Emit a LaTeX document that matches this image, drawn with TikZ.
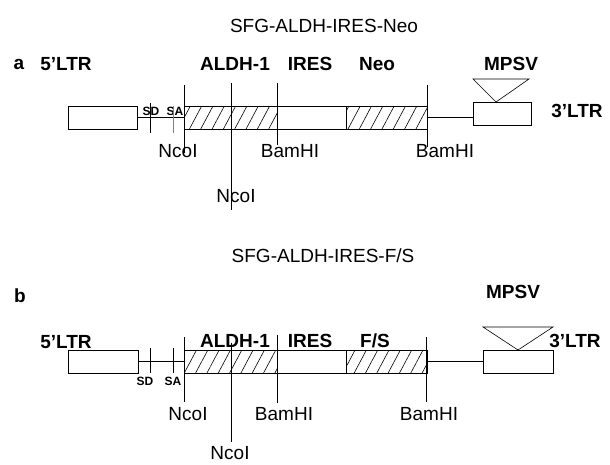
\documentclass[tikz,border=0pt]{standalone}
\usepackage{fontspec}
\setmainfont{Liberation Sans}
\usetikzlibrary{positioning,patterns.meta}

\begin{document}
\begin{tikzpicture}[x=1pt, y=-1pt, font=\fontsize{19}{22}\selectfont,
  box/.style={draw, line width=0.8pt, inner sep=0pt, outer sep=0pt, minimum height=23pt},
  hatchbox/.style={box, pattern={Lines[angle=62, distance=10pt, line width=0.6pt]}},
  lbl/.style={font=\fontsize{19}{22}\selectfont\bfseries, anchor=base, inner sep=0pt},
  ttl/.style={anchor=base, inner sep=0pt},
  site/.style={anchor=base, inner sep=0pt},
  sdsa/.style={font=\fontsize{12}{14}\selectfont\bfseries, anchor=base, inner sep=0pt},
  bb/.style={line width=0.8pt},
  cut/.style={line width=0.6pt}]
\useasboundingbox (0,0) rectangle (610,464);

% ---- panel a: SFG-ALDH-IRES-Neo
\node[ttl] (titleA) at (324,32) {SFG-ALDH-IRES-Neo};
\node[lbl] (panA) at (19,69) {a};
\node[lbl] (ltr5A) at (66,70) {5'LTR};
\node[lbl] (aldhlA) at (235,70) {ALDH-1};
\node[lbl] (ireslA) at (310,70) {IRES};
\node[lbl] (neolA) at (377,70) {Neo};
\node[lbl] (mpsvlA) at (511,70) {MPSV};
\node[lbl] (ltr3A) at (577,117) {3'LTR};
\node[box, minimum width=69pt] (ltrA) at (102.5,117.5) {};
\node[box, minimum width=243pt] (insA) at (305.5,117.5) {};
\node[hatchbox, minimum width=93pt] (aldhA) at (230.5,117.5) {};
\node[hatchbox, minimum width=81pt] (neoA) at (386.5,117.5) {};
\node[box, minimum width=58pt] (mpsvA) at (502,113.5) {};
\draw[bb] (ltrA.east) -- (insA.west);
\draw[bb] (insA.east |- 0,117) -- (mpsvA.west |- 0,117);
\coordinate (triAl) at (473,79);
\coordinate (triAr) at (529,79);
\coordinate (triAp) at (496,102);
\draw[cut] (triAl) -- (triAr) -- (triAp) -- cycle;
\node[sdsa] (sdA) at (151,115) {SD};
\node[sdsa] (saA) at (175,115) {SA};
\coordinate (sdAt) at (150,103);  \coordinate (sdAb) at (150,133);
\coordinate (saAt) at (173,106);  \coordinate (saAb) at (173,133);
\draw[cut] (sdAt) -- (sdAb);
\draw[cut, gray] (saAt) -- (saAb);
\node[site] (ncoA) at (178,157) {NcoI};
\node[site] (bamA) at (290,157) {BamHI};
\node[site] (bamAr) at (445,157) {BamHI};
\node[site] (ncoAl) at (236,202) {NcoI};
\coordinate (ncoAt) at (184,85);   \coordinate (ncoAb) at (184,153);
\coordinate (ncoAlt) at (231,83);  \coordinate (ncoAlb) at (231,210);
\coordinate (bamAt) at (277,83);   \coordinate (bamAb) at (277,145);
\coordinate (bamArt) at (427,85);  \coordinate (bamArb) at (427,147);
\draw[cut] (ncoAt) -- (ncoAb);
\draw[cut] (ncoAlt) -- (ncoAlb);
\draw[cut] (bamAt) -- (bamAb);
\draw[cut] (bamArt) -- (bamArb);

% ---- panel b: SFG-ALDH-IRES-F/S
\node[ttl] (titleB) at (323,262) {SFG-ALDH-IRES-F/S};
\node[lbl] (panB) at (20,302) {b};
\node[lbl] (mpsvlB) at (513,298) {MPSV};
\node[lbl] (ltr5B) at (66,348) {5'LTR};
\node[lbl] (aldhlB) at (235,347) {ALDH-1};
\node[lbl] (ireslB) at (310,347) {IRES};
\node[lbl] (fslB) at (375,347) {F/S};
\node[lbl] (ltr3B) at (575,347) {3'LTR};
\node[box, minimum width=70pt] (ltrB) at (103,361.5) {};
\node[box, minimum width=243pt] (insB) at (305.5,361.5) {};
\node[hatchbox, minimum width=93pt] (aldhB) at (230.5,361.5) {};
\node[hatchbox, minimum width=81pt] (fsB) at (386.5,361.5) {};
\node[box, minimum width=70pt] (mpsvB) at (518,361.5) {};
\draw[bb] (ltrB.east) -- (insB.west);
\draw[bb] (insB.east) -- (mpsvB.west);
\coordinate (triBl) at (483,327);
\coordinate (triBr) at (553,327);
\draw[cut] (triBl) -- (triBr) -- (mpsvB.north) -- cycle;
\node[sdsa] (sdB) at (145,385) {SD};
\node[sdsa] (saB) at (173,385) {SA};
\coordinate (sdBt) at (150,348);  \coordinate (sdBb) at (150,373);
\coordinate (saBt) at (173,348);  \coordinate (saBb) at (173,373);
\draw[bb] (sdBt) -- (sdBb);
\draw[bb] (saBt) -- (saBb);
\node[site] (ncoB) at (188,420) {NcoI};
\node[site] (bamB) at (284,420) {BamHI};
\node[site] (bamBr) at (429,420) {BamHI};
\node[site] (ncoBl) at (230,459) {NcoI};
\coordinate (ncoBt) at (184,337);  \coordinate (ncoBb) at (184,402);
\coordinate (ncoBlt) at (231,343); \coordinate (ncoBlb) at (231,442);
\coordinate (bamBt) at (277,335);  \coordinate (bamBb) at (277,403);
\coordinate (bamBrt) at (426,337); \coordinate (bamBrb) at (426,402);
\draw[bb] (ncoBt) -- (ncoBb);
\draw[bb] (ncoBlt) -- (ncoBlb);
\draw[bb] (bamBt) -- (bamBb);
\draw[bb] (bamBrt) -- (bamBrb);
\end{tikzpicture}
\end{document}
